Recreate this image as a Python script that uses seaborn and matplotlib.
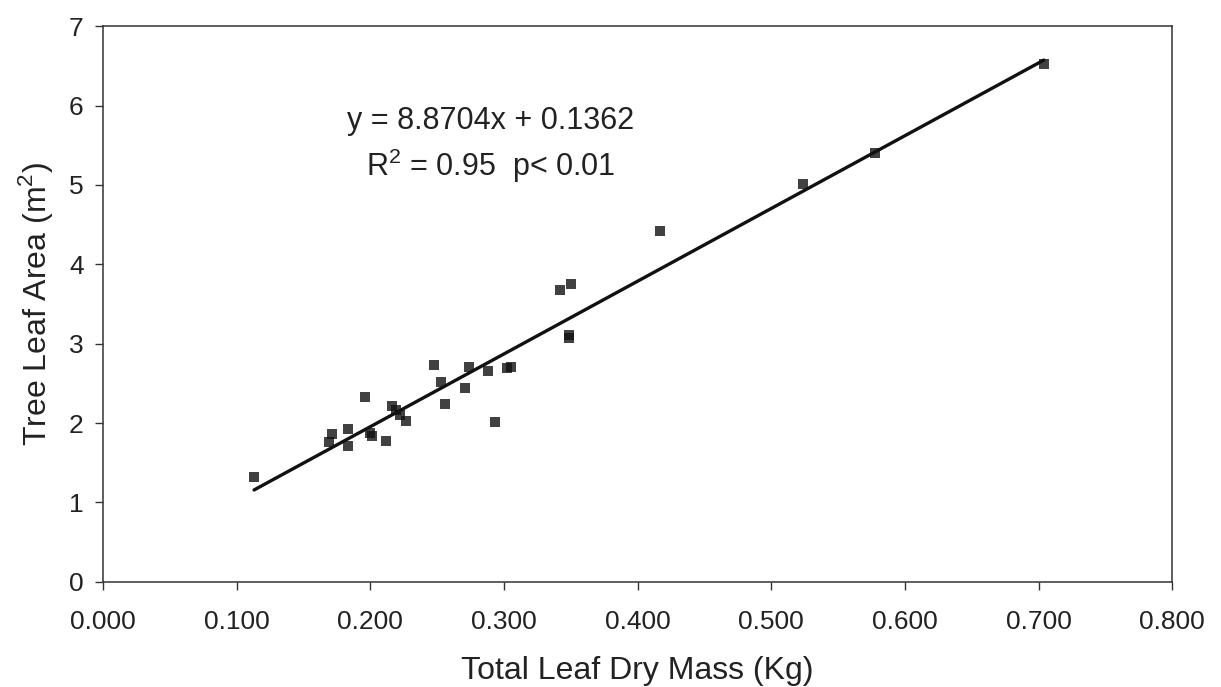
import pandas as pd
import matplotlib
matplotlib.use('Agg')
import matplotlib.pyplot as plt
import seaborn as sns

# valores
massa_seca = [0.113, 0.169, 0.171, 0.183, 0.183, 0.196, 0.200, 0.201, 0.212, 0.216,
              0.219, 0.222, 0.227, 0.248, 0.253, 0.256, 0.271, 0.274, 0.288, 0.293,
              0.302, 0.305, 0.342, 0.350, 0.349, 0.349, 0.417, 0.524, 0.578, 0.704]
area_foliar = [1.32, 1.76, 1.86, 1.93, 1.71, 2.33, 1.88, 1.84, 1.78, 2.22,
               2.16, 2.10, 2.03, 2.73, 2.52, 2.24, 2.44, 2.71, 2.66, 2.02,
               2.69, 2.71, 3.68, 3.75, 3.11, 3.07, 4.42, 5.01, 5.40, 6.52]

x_ticks = [0.0, 0.1, 0.2, 0.3, 0.4, 0.5, 0.6, 0.7, 0.8]
y_ticks = [0, 1, 2, 3, 4, 5, 6, 7]

equacao = 'y = 8.8704x + 0.1362'
r2_texto = r'R$^2$ = 0.95  p< 0.01'

df = pd.DataFrame({'massa': massa_seca, 'area': area_foliar})

sns.set_theme(style="white")
plt.rcParams['font.family'] = ['Liberation Sans', 'DejaVu Sans']
plt.rcParams['mathtext.fontset'] = 'custom'
plt.rcParams['mathtext.rm'] = 'Liberation Sans'

fig = plt.figure(figsize=(12.21, 6.87), dpi=100)
ax = fig.add_axes([0.0844, 0.153, 0.8756, 0.809])

sns.regplot(
    x='massa', y='area', data=df, ci=None, truncate=True, ax=ax,
    marker='s', color='#111111',
    scatter_kws={'s': 50, 'linewidths': 0},
    line_kws={'linewidth': 2.4, 'color': '#111111'}
)

ax.set_xlim(0, 0.8)
ax.set_ylim(0, 7)
ax.set_xticks(x_ticks)
ax.set_yticks(y_ticks)
ax.set_xticklabels([f'{v:.3f}' for v in x_ticks])
ax.tick_params(axis='both', direction='out', length=6, width=1, colors='#333333',
               labelsize=19, labelcolor='#222222', bottom=True, left=True)
ax.tick_params(axis='x', pad=14)
ax.tick_params(axis='y', pad=8)

for lado in ['top', 'right', 'bottom', 'left']:
    ax.spines[lado].set_visible(True)
    ax.spines[lado].set_color('#333333')
    ax.spines[lado].set_linewidth(1.1)

ax.set_xlabel('Total Leaf Dry Mass (Kg)', fontsize=23, color='#222222', labelpad=16)
ax.set_ylabel(r'Tree Leaf Area (m$^2$)', fontsize=23, color='#222222', labelpad=10)

ax.text(0.290, 5.80, equacao, fontsize=22, ha='center', va='center', color='#222222')
ax.text(0.290, 5.24, r2_texto, fontsize=22, ha='center', va='center', color='#222222')

fig.savefig('out.png', dpi=100)
